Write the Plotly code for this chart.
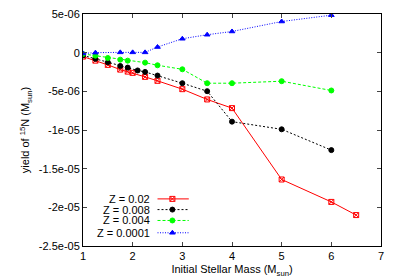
import plotly.graph_objects as go

# Z = 0.02
m_z02 = [1, 1.25, 1.5, 1.75, 1.9, 2, 2.25, 2.5, 3, 3.5, 4, 5, 6, 6.5]
y_z02 = [-0.51e-6, -1.03e-6, -1.58e-6, -2.19e-6, -2.45e-6, -2.61e-6, -3.13e-6, -3.64e-6,
         -4.72e-6, -6.05e-6, -7.17e-6, -16.4e-6, -19.3e-6, -21.0e-6]
# Z = 0.008
m_z008 = [1, 1.25, 1.5, 1.75, 1.9, 2.1, 2.25, 2.5, 3, 3.5, 4, 5, 6]
y_z008 = [-0.35e-6, -0.8e-6, -1.25e-6, -1.72e-6, -1.93e-6, -2.3e-6, -2.49e-6, -2.96e-6,
          -3.95e-6, -4.98e-6, -8.92e-6, -9.91e-6, -12.6e-6]
# Z = 0.004
m_z004 = [1, 1.25, 1.5, 1.75, 1.9, 2.25, 2.5, 3, 3.5, 4, 5, 6]
y_z004 = [-0.17e-6, -0.39e-6, -0.69e-6, -0.90e-6, -1.03e-6, -1.29e-6, -1.63e-6, -2.15e-6,
          -3.95e-6, -3.95e-6, -3.69e-6, -4.89e-6]
# Z = 0.0001
m_z0001 = [1, 1.25, 1.75, 2, 2.25, 2.5, 3, 3.5, 4, 5, 6]
y_z0001 = [-0.1e-6, 0.0, 0.04e-6, 0.04e-6, 0.04e-6, 0.73e-6, 1.80e-6, 2.32e-6, 2.74e-6,
           4.03e-6, 4.85e-6]

labels = ["Z = 0.02", "Z = 0.008", "Z = 0.004", "Z = 0.0001"]

x_ticks = [1, 2, 3, 4, 5, 6, 7]
y_ticks = [5e-6, 0, -5e-6, -1e-5, -1.5e-5, -2e-5, -2.5e-5]
y_ticktext = ["5e-06", "0", "-5e-06", "-1e-05", "-1.5e-05", "-2e-05", "-2.5e-05"]

FONT = "Liberation Sans, Arial, sans-serif"

styles = [
    dict(color="#ff0000", dash="solid", symbol="square-x-open", size=5),
    dict(color="#000000", dash="2px,2px", symbol="circle", size=5),
    dict(color="#00ff00", dash="3px,2px", symbol="circle", size=5),
    dict(color="#0000ff", dash="1px,1.5px", symbol="triangle-up", size=5),
]
series = [(m_z02, y_z02), (m_z008, y_z008), (m_z004, y_z004), (m_z0001, y_z0001)]

fig = go.Figure()
for (xs, ys), st, lab in zip(series, styles, labels):
    fig.add_trace(go.Scatter(
        x=xs, y=ys, mode="lines+markers", name=lab, showlegend=False,
        line=dict(color=st["color"], width=1, dash=st["dash"]),
        marker=dict(symbol=st["symbol"], size=st["size"], color=st["color"],
                    line=dict(color=st["color"], width=1)),
    ))

# manual gnuplot-style legend (text left, sample right)
leg_y = [0.203, 0.157, 0.110, 0.057]
for st, lab, ly in zip(styles, labels, leg_y):
    fig.add_trace(go.Scatter(
        x=[0.25, 0.30, 0.355], y=[ly, ly, ly], xaxis="x2", yaxis="y2",
        mode="lines", showlegend=False, hoverinfo="skip",
        line=dict(color=st["color"], width=1, dash=st["dash"]),
    ))
    fig.add_trace(go.Scatter(
        x=[0.30], y=[ly], xaxis="x2", yaxis="y2",
        mode="markers", showlegend=False, hoverinfo="skip",
        marker=dict(symbol=st["symbol"], size=st["size"], color=st["color"],
                    line=dict(color=st["color"], width=1)),
    ))
    fig.add_annotation(x=0.231, y=ly, xref="x2", yref="y2", text=lab,
                       showarrow=False, xanchor="right", yanchor="middle",
                       font=dict(family=FONT, size=11, color="black"))

fig.update_layout(
    width=400, height=280,
    margin=dict(l=75, r=27, t=6, b=41.5),
    paper_bgcolor="white", plot_bgcolor="white",
    font=dict(family=FONT, size=11, color="black"),
    xaxis=dict(range=[1, 7], tickvals=x_ticks, ticks="inside", ticklen=4,
               showgrid=False, zeroline=False, showline=True, linecolor="black",
               linewidth=1, mirror="ticks", ticklabeloverflow="allow",
               automargin=False,
               title=dict(text="Initial Stellar Mass (M<sub>sun</sub>)", standoff=4,
                          font=dict(size=11))),
    yaxis=dict(range=[-2.5e-5, 5e-6], tickvals=y_ticks, ticktext=y_ticktext,
               ticks="inside", ticklen=4, showgrid=False, zeroline=False,
               showline=True, linecolor="black", linewidth=1, mirror="ticks",
               ticklabeloverflow="allow", automargin=False,
               title=dict(text="yield of <sup>15</sup>N (M<sub>sun</sub>)", standoff=6,
                          font=dict(size=11))),
    xaxis2=dict(range=[0, 1], overlaying="x", visible=False, fixedrange=True),
    yaxis2=dict(range=[0, 1], overlaying="y", visible=False, fixedrange=True),
)

fig.write_html("out.html")
